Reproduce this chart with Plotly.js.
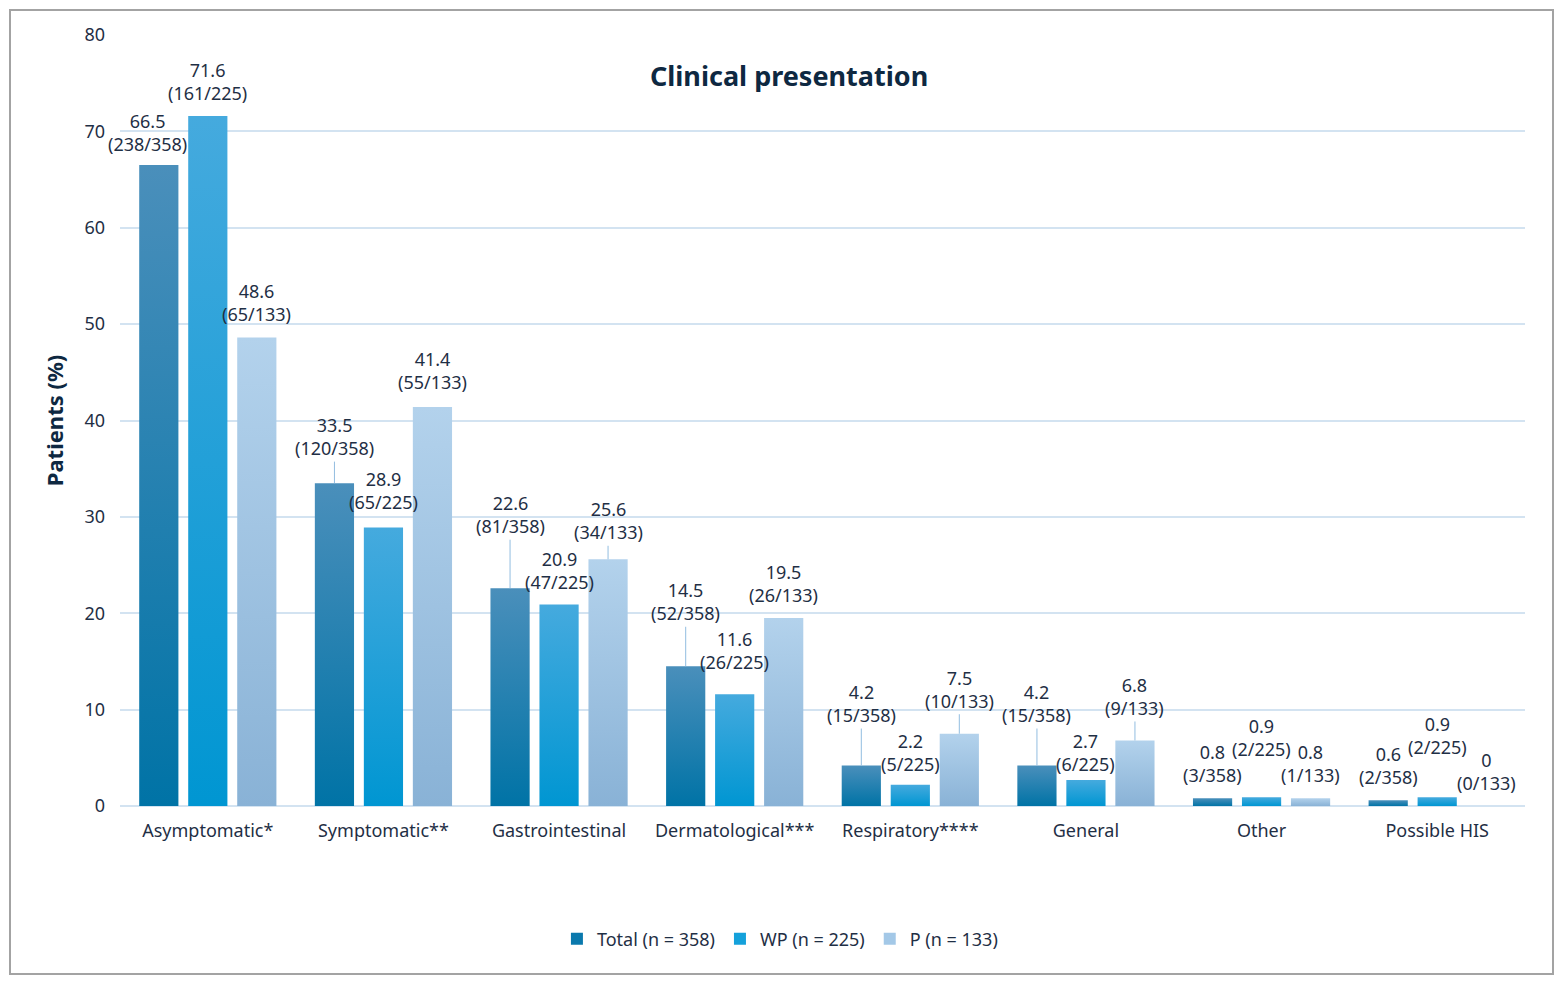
<!DOCTYPE html>
<html>
<head>
<meta charset="utf-8">
<script src="https://cdn.plot.ly/plotly-3.0.1.min.js"></script>
<style>
  body { margin: 0; background: #fff; }
  #myChart { width: 1560px; height: 982px; }
  #frame { position: absolute; left: 9px; top: 9px; width: 1541px; height: 962px; border: 2px solid #a3a3a3; pointer-events: none; }
</style>
</head>
<body>
<div id="myChart"></div>
<div id="frame"></div>
<script>
const categories = ['Asymptomatic*', 'Symptomatic**', 'Gastrointestinal', 'Dermatological***', 'Respiratory****', 'General', 'Other', 'Possible HIS'];
const seriesNames = ['Total (n = 358)', 'WP (n = 225)', 'P (n = 133)'];

const total_values = [66.5, 33.5, 22.6, 14.5, 4.2, 4.2, 0.8, 0.6];
const total_counts = ['238/358', '120/358', '81/358', '52/358', '15/358', '15/358', '3/358', '2/358'];

const wp_values = [71.6, 28.9, 20.9, 11.6, 2.2, 2.7, 0.9, 0.9];
const wp_counts = ['161/225', '65/225', '47/225', '26/225', '5/225', '6/225', '2/225', '2/225'];

const p_values = [48.6, 41.4, 25.6, 19.5, 7.5, 6.8, 0.8, 0];
const p_counts = ['65/133', '55/133', '34/133', '26/133', '10/133', '9/133', '1/133', '0/133'];

// label placement (pixels above the bar top), leader line on/off, small sideways nudge
const label_lift = [
    [33, 46.5, 73.5, 64.5, 62, 62, 35, 35],
    [34.5, 36.5, 34, 43.5, 32.5, 27.5, 60, 62],
    [35, 36.5, 38.5, 34.5, 44.5, 44, 35, 34.5]
];
const label_leader = [
    [0, 1, 1, 1, 1, 1, 0, 0],
    [0, 0, 0, 0, 0, 0, 0, 0],
    [0, 0, 1, 0, 1, 1, 0, 0]
];
const label_dx = [
    [-11, 0, 0, 0, 0, 0, 0, 0],
    [0, 0, 0, 0, 0, 0, 0, 0],
    [0, 0, 0, 0, 0, 0, 0, 0]
];

const FONT = 'Noto Sans, sans-serif';
const TEXT = '#1f2f45';
const colors = ['#0a79ad', '#14a1db', '#a3c8e7'];
const gradients = [['#4a8fbb', '#0073a6'], ['#45aade', '#0096d2'], ['#b3d2ec', '#89b2d6']];
const offsets = [-49, 0, 49];

const allValues = [total_values, wp_values, p_values];
const allCounts = [total_counts, wp_counts, p_counts];

let traces = allValues.map(function (vals, s) {
    return {
        x: categories,
        y: vals,
        type: 'bar',
        name: seriesNames[s],
        marker: { color: colors[s], line: { width: 0 } },
        hoverinfo: 'skip'
    };
});

let annotations = [];
for (let s = 0; s < 3; s++) {
    for (let i = 0; i < categories.length; i++) {
        annotations.push({
            x: categories[i],
            y: allValues[s][i],
            xref: 'x',
            yref: 'y',
            text: allValues[s][i] + '<br>(' + allCounts[s][i] + ')',
            xshift: offsets[s] + label_dx[s][i],
            showarrow: true,
            ax: 0,
            ay: -label_lift[s][i],
            arrowhead: 0,
            arrowwidth: 1,
            standoff: 0,
            startstandoff: 0,
            arrowcolor: label_leader[s][i] ? '#92bde0' : 'rgba(0,0,0,0)',
            font: { family: FONT, size: 18, color: TEXT },
            align: 'center'
        });
    }
}

const layout = {
    title: {
        text: '<b>Clinical presentation</b>',
        font: { family: FONT, size: 27, color: '#0e2841' },
        x: 0.5058, xanchor: 'center',
        y: 0.9216, yanchor: 'middle'
    },
    font: { family: FONT, color: TEXT },
    barmode: 'group',
    bargap: 0.163,
    bargroupgap: 0.2,
    xaxis: {
        range: [-0.5, categories.length - 0.5],
        automargin: false,
        tickfont: { family: FONT, size: 18, color: TEXT },
        ticklabelstandoff: 12,
        showgrid: false,
        showline: false,
        ticks: ''
    },
    yaxis: {
        range: [0, 80],
        dtick: 10,
        automargin: false,
        tickfont: { family: FONT, size: 18, color: TEXT },
        gridcolor: '#d3e3f1',
        gridwidth: 1.5,
        zerolinecolor: '#d3e3f1',
        zerolinewidth: 1.5,
        ticklabelstandoff: 14,
        title: {
            text: '<b>Patients (%)</b>',
            font: { family: FONT, size: 22, color: '#0e2841' },
            standoff: 14
        }
    },
    showlegend: true,
    legend: {
        orientation: 'h',
        x: 0.4697, xanchor: 'center',
        y: -0.1725, yanchor: 'middle',
        font: { family: FONT, size: 18, color: TEXT },
        itemwidth: 30,
        traceorder: 'normal'
    },
    annotations: annotations,
    paper_bgcolor: '#ffffff',
    plot_bgcolor: '#ffffff',
    margin: { t: 35, b: 176, l: 120, r: 35 },
    width: 1560,
    height: 982
};

function paint_gradients(gd) {
    const svg = gd.querySelector('.main-svg');
    let defs = svg.querySelector('defs');
    gradients.forEach(function (g, s) {
        const id = 'barGrad' + s;
        if (defs.querySelector('#' + id)) return;
        const lg = document.createElementNS('http://www.w3.org/2000/svg', 'linearGradient');
        lg.setAttribute('id', id);
        lg.setAttribute('x1', '0'); lg.setAttribute('y1', '0');
        lg.setAttribute('x2', '0'); lg.setAttribute('y2', '1');
        [[0, g[0]], [1, g[1]]].forEach(function (st) {
            const stop = document.createElementNS('http://www.w3.org/2000/svg', 'stop');
            stop.setAttribute('offset', st[0]);
            stop.setAttribute('stop-color', st[1]);
            lg.appendChild(stop);
        });
        defs.appendChild(lg);
    });
    gd.querySelectorAll('.barlayer .trace').forEach(function (tr, s) {
        tr.querySelectorAll('path').forEach(function (p) {
            p.style.fill = 'url(#barGrad' + s + ')';
        });
    });
}

Plotly.newPlot('myChart', traces, layout, { displayModeBar: false }).then(function (gd) {
    paint_gradients(gd);
});
</script>
</body>
</html>
